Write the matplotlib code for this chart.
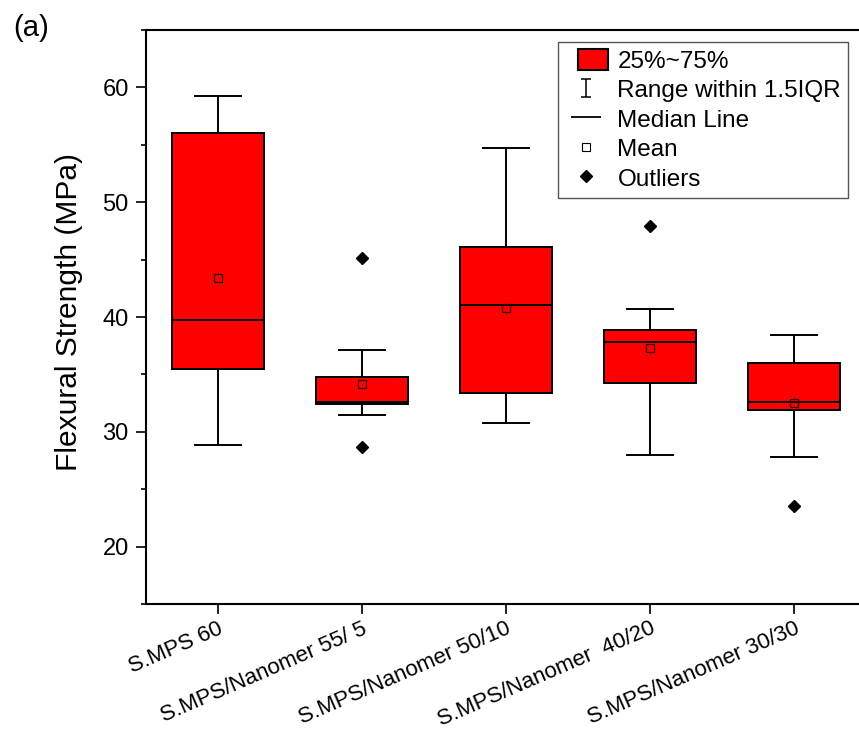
import matplotlib
matplotlib.use("Agg")
import matplotlib.pyplot as plt
from matplotlib.lines import Line2D
from matplotlib.patches import Patch, Rectangle
from matplotlib.path import Path
from matplotlib.legend_handler import HandlerPatch
from matplotlib.ticker import MultipleLocator

plt.rcParams['font.family'] = ['Liberation Sans', 'DejaVu Sans']

categories = ["S.MPS 60", "S.MPS/Nanomer 55/ 5", "S.MPS/Nanomer 50/10",
              "S.MPS/Nanomer  40/20", "S.MPS/Nanomer 30/30"]
q1 = [35.43, 32.38, 33.34, 34.29, 31.89]
median = [39.70, 32.58, 41.02, 37.83, 32.58]
q3 = [56.06, 34.76, 46.09, 38.87, 35.97]
whisker_low = [28.87, 31.42, 30.78, 27.95, 27.80]
whisker_high = [59.25, 37.10, 54.73, 40.67, 38.41]
means = [43.43, 34.18, 40.76, 37.28, 32.50]
outliers = [[], [45.10, 28.64], [], [47.97], [23.57]]

stats = []
for i in range(len(categories)):
    stats.append(dict(med=median[i], q1=q1[i], q3=q3[i], whislo=whisker_low[i],
                      whishi=whisker_high[i], mean=means[i], fliers=outliers[i],
                      label=categories[i]))

fig = plt.figure(figsize=(8.59, 7.31), dpi=100)
ax = fig.add_axes([145.7/859, 1-604/731, (866-145.7)/859, (604-30)/731])

lw = 1.4
positions = list(range(1, len(categories)+1))
ax.bxp(stats, positions=positions, widths=0.64, capwidths=0.32,
       patch_artist=True, showmeans=True,
       boxprops=dict(facecolor='#FF0000', edgecolor='black', linewidth=lw),
       medianprops=dict(color='black', linewidth=lw),
       whiskerprops=dict(color='black', linewidth=lw),
       capprops=dict(color='black', linewidth=lw),
       meanprops=dict(marker='s', markerfacecolor='none', markeredgecolor='#300000',
                      markersize=6, markeredgewidth=0.9),
       flierprops=dict(marker='D', markerfacecolor='black', markeredgecolor='black',
                       markersize=6.5))

ax.set_xlim(0.5, 5.5)
ax.set_ylim(15, 65)
ax.yaxis.set_major_locator(MultipleLocator(10))
ax.yaxis.set_minor_locator(MultipleLocator(5))
ax.set_xticks(positions)
ax.set_xticklabels(categories, rotation=23.5, ha='right', rotation_mode='anchor',
                   fontsize=16)
ax.tick_params(axis='y', which='major', direction='out', length=7.2, width=1.2,
               labelsize=17, pad=5)
ax.tick_params(axis='y', which='minor', direction='out', length=3.6, width=1.2)
ax.tick_params(axis='x', which='major', direction='out', length=7.2, width=1.2, pad=3)
for s in ax.spines.values():
    s.set_linewidth(1.5)

ax.set_ylabel("Flexural Strength (MPa)", fontsize=21.5)
ax.yaxis.set_label_coords(-0.087, 0.509)


def make_box(legend, orig_handle, xdescent, ydescent, width, height, fontsize):
    w = 21.0
    return Rectangle((-xdescent + width - w, -ydescent), w, height)


ibeam = Path([(-0.6, -1), (0.6, -1), (0, -1), (0, 1), (-0.6, 1), (0.6, 1)],
             [Path.MOVETO, Path.LINETO, Path.MOVETO, Path.LINETO, Path.MOVETO, Path.LINETO])
box_handle = Patch(facecolor='#FF0000', edgecolor='black', linewidth=1.5)
handles = [
    box_handle,
    Line2D([], [], linestyle='none', marker=ibeam, markersize=12.5,
           markerfacecolor='none', markeredgecolor='black', markeredgewidth=1.1),
    Line2D([], [], linestyle='none', marker='_', markersize=22,
           markeredgecolor='black', markeredgewidth=1.3),
    Line2D([], [], linestyle='none', marker='s', markersize=5.5,
           markerfacecolor='none', markeredgecolor='black', markeredgewidth=0.8),
    Line2D([], [], linestyle='none', marker='D', markersize=6.5,
           markerfacecolor='black', markeredgecolor='black'),
]
labels = ["25%~75%", "Range within 1.5IQR", "Median Line", "Mean", "Outliers"]
leg = fig.legend(handles, labels, loc='upper right',
                 bbox_to_anchor=(848.3/859, 1-41.7/731), fontsize=17.5,
                 frameon=True, fancybox=False, framealpha=1, edgecolor='#555555',
                 borderpad=0.3, labelspacing=0.23, handlelength=1.75,
                 handleheight=0.95, handletextpad=0.4, borderaxespad=0,
                 handler_map={box_handle: HandlerPatch(patch_func=make_box)})
leg.get_frame().set_linewidth(1.0)

fig.text(13/859, 1-14/731, "(a)", fontsize=21, ha='left', va='top')

fig.savefig("out.png", dpi=100)
